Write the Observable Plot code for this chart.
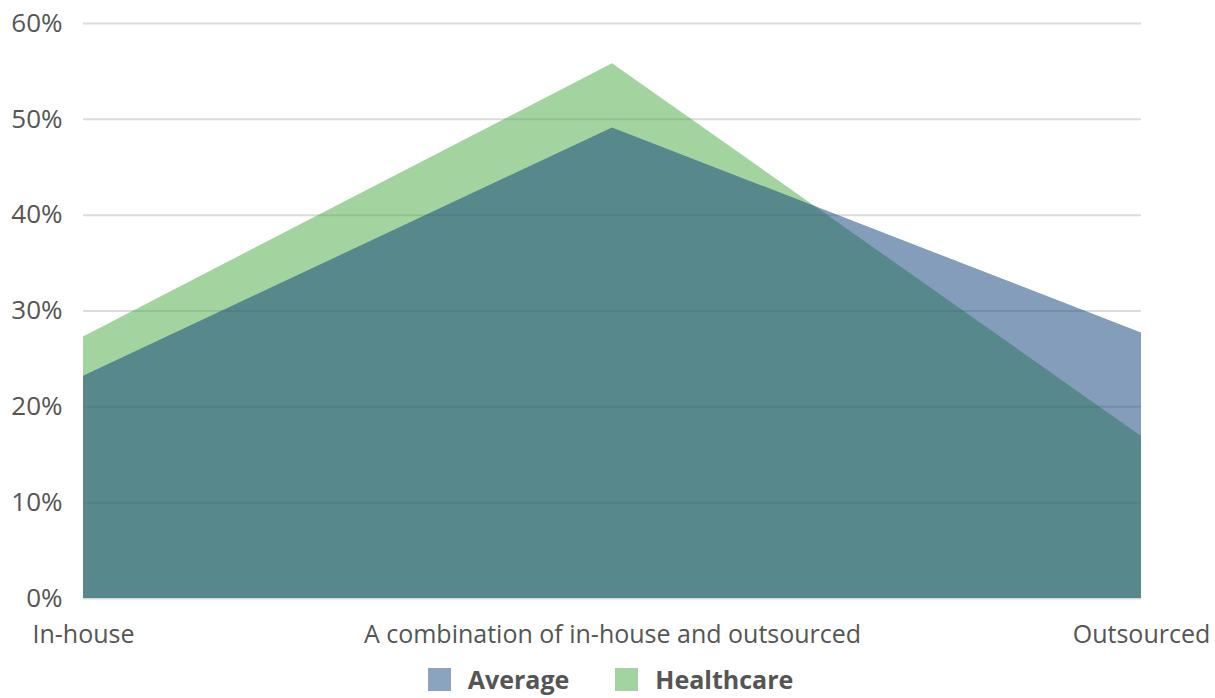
<!DOCTYPE html>
<html>
<head>
<meta charset="utf-8">
<script src="https://cdn.jsdelivr.net/npm/d3@7"></script>
<script src="https://cdn.jsdelivr.net/npm/@observablehq/plot@0.6"></script>
<style>
  html, body { margin: 0; padding: 0; background: #fff; }
  body { width: 1215px; height: 698px; overflow: hidden; font-family: "Open Sans", sans-serif; }
  #chart svg { display: block; }
  #legend { display: flex; justify-content: center; align-items: center; margin-top: 5px; padding-left: 6px; }
  .item { display: flex; align-items: center; font-weight: 700; font-size: 25px; line-height: 28px; color: #555; margin: 0 23px; }
  .swatch { width: 23px; height: 23px; margin-right: 17px; }
</style>
</head>
<body>
<div id="chart"></div>
<div id="legend"></div>
<script>
// Approach to delivery, share of respondents (%)
const categories = ["In-house", "A combination of in-house and outsourced", "Outsourced"];
const averageValues = [23.2, 49.1, 27.7];
const healthcareValues = [27.3, 55.8, 16.9];
const yTicks = [0, 10, 20, 30, 40, 50, 60];

const seriesNames = ["Average", "Healthcare"];
const legendColors = ["#8aa4bf", "#a3d4a0"];

const average = categories.map((c, i) => ({category: c, value: averageValues[i]}));
const healthcare = categories.map((c, i) => ({category: c, value: healthcareValues[i]}));

const chart = Plot.plot({
  width: 1215,
  height: 660,
  marginTop: 23,
  marginBottom: 62,
  marginLeft: 83,
  marginRight: 74,
  style: {fontFamily: "'Open Sans', sans-serif", fontSize: "25px", color: "#555", background: "#fff"},
  x: {type: "point", domain: categories, padding: 0},
  y: {domain: [0, 60]},
  marks: [
    Plot.ruleY(yTicks, {stroke: "#dcdcdc", strokeWidth: 2}),
    Plot.areaY(healthcare, {x: "category", y: "value", fill: "#47a941", fillOpacity: 0.5}),
    Plot.areaY(average, {x: "category", y: "value", fill: "#12447a", fillOpacity: 0.52}),
    Plot.axisY({ticks: yTicks, tickFormat: d => d + "%", tickSize: 0, tickPadding: 21, label: null, fontSize: "26px"}),
    Plot.axisX({tickSize: 0, tickPadding: 27, label: null})
  ]
});
document.getElementById("chart").appendChild(chart);

const legend = document.getElementById("legend");
seriesNames.forEach((name, i) => {
  const item = document.createElement("div");
  item.className = "item";
  const sw = document.createElement("div");
  sw.className = "swatch";
  sw.style.background = legendColors[i];
  const label = document.createElement("span");
  label.textContent = name;
  item.appendChild(sw);
  item.appendChild(label);
  legend.appendChild(item);
});
</script>
</body>
</html>
